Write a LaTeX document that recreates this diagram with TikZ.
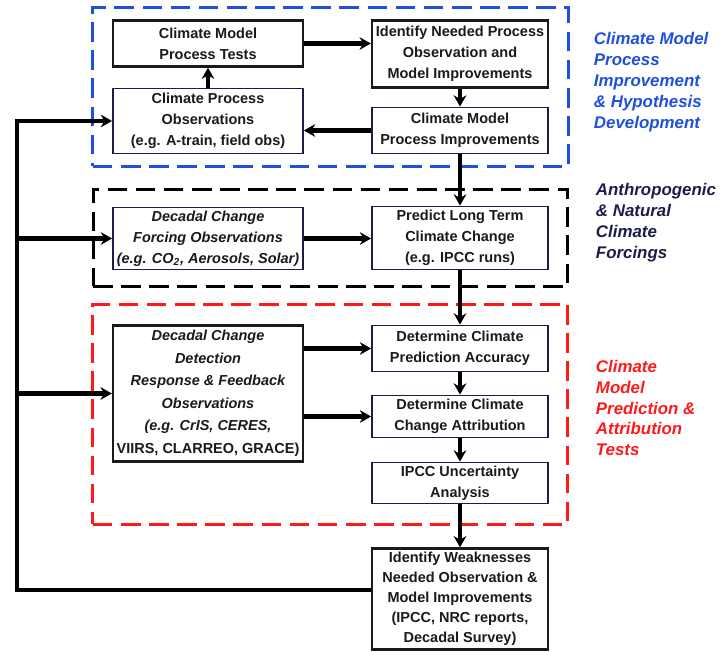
\documentclass[tikz,border=0pt]{standalone}
\usepackage{fontspec}
\setmainfont{Liberation Sans}
\usetikzlibrary{positioning,arrows.meta,fit,backgrounds}
\definecolor{azul}{HTML}{1F4FE0}
\definecolor{rojo}{HTML}{FF1A1A}
\definecolor{marino}{HTML}{1C1C4A}
\definecolor{tinta}{HTML}{1A1A1A}

\begin{document}
\begin{tikzpicture}[x=0.025cm, y=-0.025cm,
      font=\fontsize{10.3}{14.9}\selectfont\bfseries, >={Stealth[length=8pt,width=9pt]},
      b/.style={draw=tinta, fill=white, text=tinta, line width=1.7pt, align=center, inner sep=1pt},
      bn/.style={b, draw=marino, line width=1.3pt},
      lcol/.style={minimum width=4.75cm},
      rcol/.style={minimum width=4.4cm},
      fat/.style={line width=3.2pt},
      grp/.style={dashed, line width=2.1pt, dash pattern=on 14pt off 6pt, inner xsep=0.475cm},
      lab/.style={anchor=west, align=left, font=\fontsize{12}{14.9}\selectfont\bfseries\itshape}]
    \useasboundingbox (0,0) rectangle (721,655);
    % process improvement
    \node[b, lcol, minimum height=1.15cm] (tests) at (208,43.5) {Climate Model\\Process Tests};
    \node[bn, lcol, minimum height=1.625cm] (procobs) at (208,121) {Climate Process\\Observations\\(e.g. A-train, field obs)};
    \node[b, rcol, minimum height=1.675cm] (needs) at (460,54) {Identify Needed Process\\Observation and\\Model Improvements};
    \node[bn, rcol, minimum height=1.15cm] (improve) at (460,130.5) {Climate Model\\Process Improvements};
    % forcings
    \node[bn, rcol, minimum height=1.575cm] (predict) at (460,238) {Predict Long Term\\Climate Change\\(e.g. IPCC runs)};
    \node[bn, lcol, minimum height=1.55cm] (forcobs) at (208,238.5) {\itshape Decadal Change\\\itshape Forcing Observations\\\itshape (e.g. CO\textsubscript{2}, Aerosols, Solar)};
    % prediction and attribution
    \node[bn, rcol, minimum height=1.15cm] (accuracy) at (460,348.5) {Determine Climate\\Prediction Accuracy};
    \node[bn, rcol, minimum height=1.05cm] (attrib) at (460,416.5) {Determine Climate\\Change Attribution};
    \node[bn, rcol, minimum height=1.025cm] (uncert) at (460,483) {IPCC Uncertainty\\Analysis};
    \node[b, lcol, minimum height=3.4cm, font=\fontsize{10.3}{16}\selectfont\bfseries] (detobs) at (208,393.5) {\itshape Decadal Change\\\itshape Detection\\\itshape Response \& Feedback\\\itshape Observations\\\itshape (e.g. CrIS, CERES,\\VIIRS, CLARREO, GRACE)};
    \node[b, rcol, minimum height=2.525cm, font=\fontsize{10.3}{14.3}\selectfont\bfseries] (weak) at (460,599) {Identify Weaknesses\\Needed Observation \&\\Model Improvements\\(IPCC, NRC reports,\\Decadal Survey)};
    \begin{scope}[on background layer]
      \node[grp, draw=azul, fit=(tests)(procobs)(needs)(improve), inner ysep=0.3cm] (blubox) {};
      \node[grp, draw=black, fit=(forcobs)(predict), inner ysep=0.4cm] (blkbox) {};
      \node[grp, draw=rojo, fit=(detobs)(accuracy)(uncert), inner ysep=0.5cm] (redbox) {};
    \end{scope}
    \node[lab, text=azul] (tagimp) at (589,82) {Climate Model\\Process\\Improvement\\\& Hypothesis\\Development};
    \node[lab, text=marino] (tagfor) at (591,223) {Anthropogenic\\\& Natural\\Climate\\Forcings};
    \node[lab, text=rojo] (tagpre) at (591,408) {Climate\\Model\\Prediction \&\\Attribution\\Tests};
    \draw[fat,->] (tests.east) -- (tests.east -| needs.west);
    \draw[fat,->] (procobs) -- (tests);
    \draw[fat,->] (needs) -- (improve);
    \draw[fat,->] (improve.west) -- (improve.west -| procobs.east);
    \draw[fat,->] (improve) -- (predict);
    \draw[fat,->] (forcobs.east) -- (forcobs.east -| predict.west);
    \draw[fat,->] (predict) -- (accuracy); \draw[fat,->] (accuracy) -- (attrib);
    \draw[fat,->] (attrib) -- (uncert); \draw[fat,->] (uncert) -- (weak);
    \draw[fat,->] (detobs.east |- accuracy) -- (accuracy.west);
    \draw[fat,->] (detobs.east |- attrib) -- (attrib.west);
    % feedback rail
    \coordinate (rail) at (17,590);
    \draw[fat,->] (weak.west |- rail) -- (rail) |- (procobs.west);
    \draw[fat,->] (rail |- forcobs.west) -- (forcobs.west);
    \draw[fat,->] (rail |- detobs.west) -- (detobs.west);
  \end{tikzpicture}
\end{document}
